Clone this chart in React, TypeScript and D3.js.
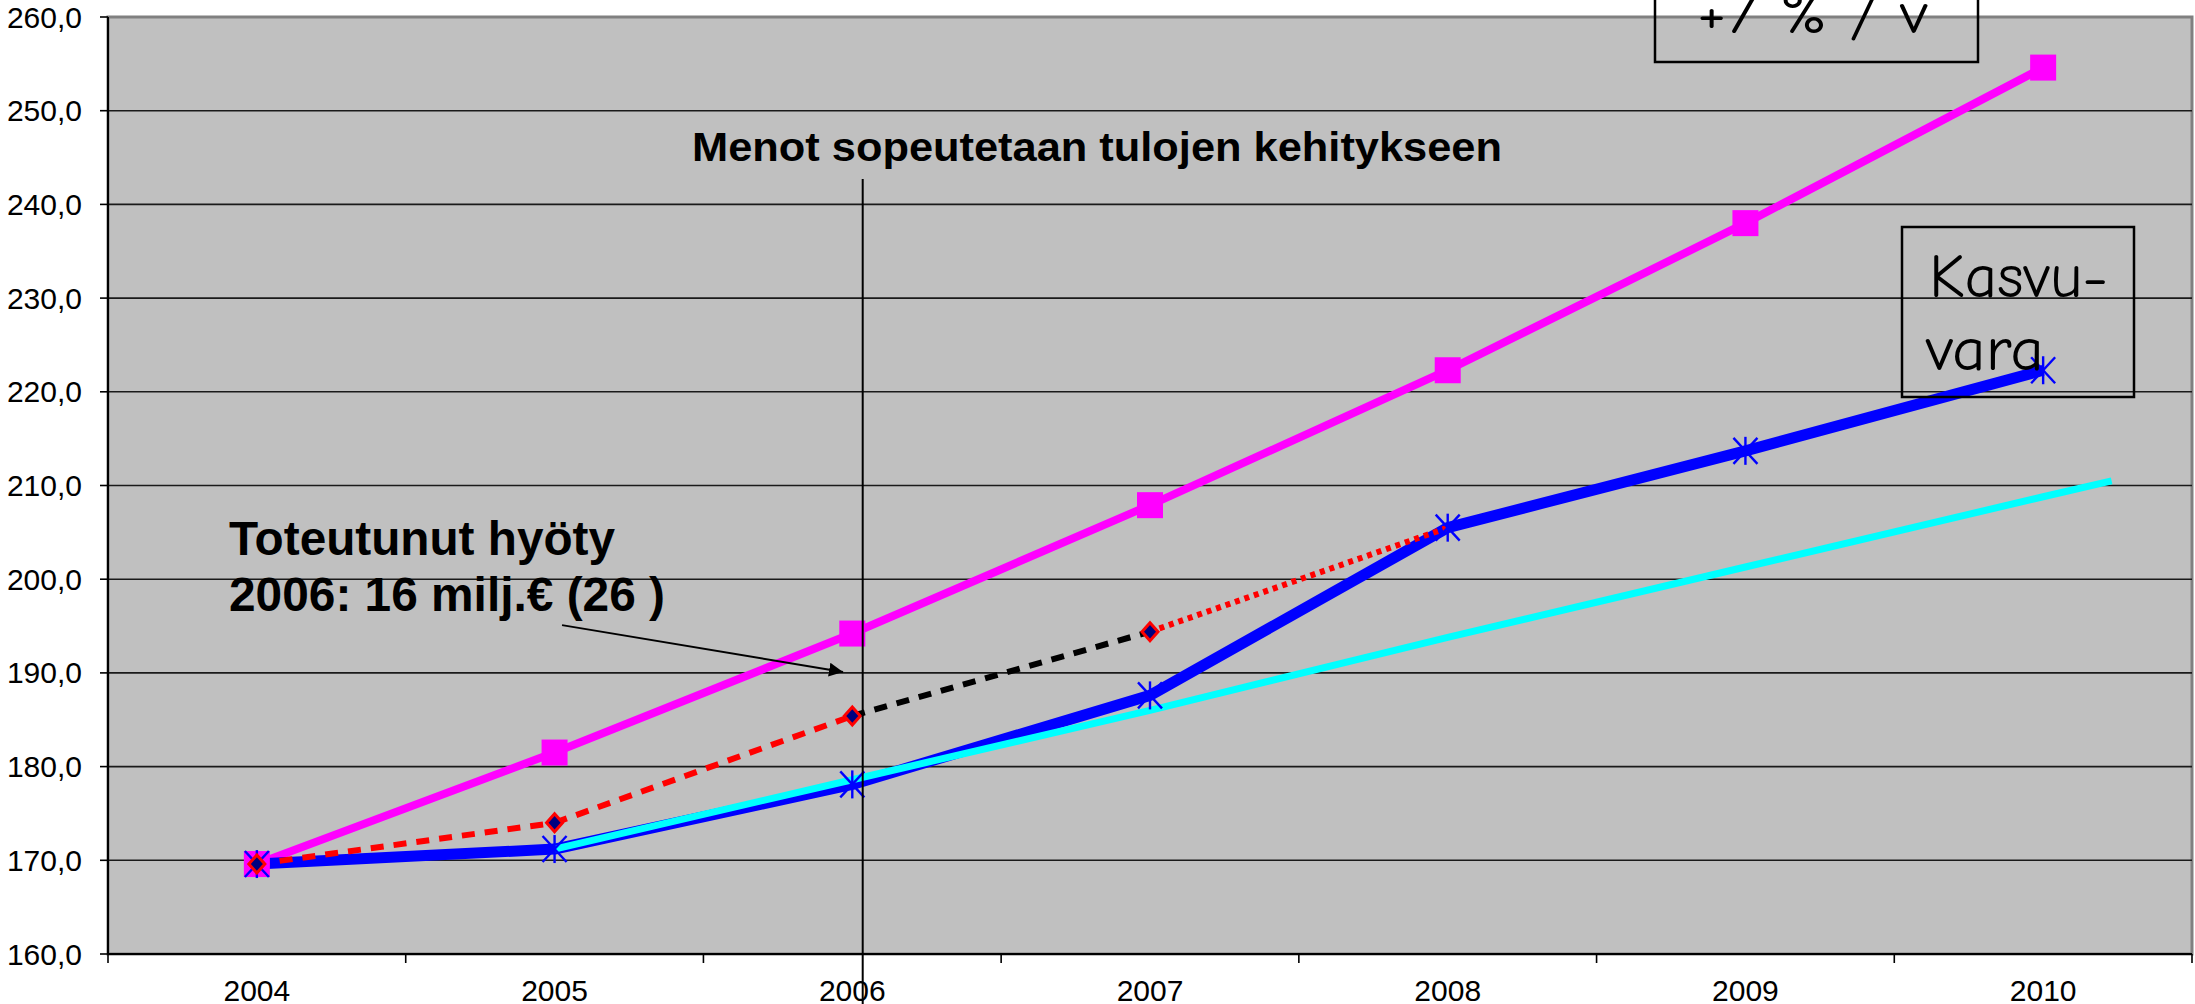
import React from 'react';
import * as d3 from 'd3';

// ---- data ----
const years = [2004, 2005, 2006, 2007, 2008, 2009, 2010];
const yTicks = [160, 170, 180, 190, 200, 210, 220, 230, 240, 250, 260];
const growth7 = [169.6, 181.5, 194.2, 207.9, 222.3, 238.0, 254.6];
const actual = [169.6, 171.2, 178.1, 187.6, 205.5, 213.7, 222.3];
const trendYears = [2005, 2006, 2007, 2008, 2009, 2010, 2010.23];
const trendValues = [171.2, 178.6, 186.0, 193.8, 201.3, 208.8, 210.5];
const forecastYears = [2004, 2005, 2006, 2007, 2008];
const forecastValues = [169.6, 174.0, 185.4, 194.4, 205.5];
const forecastSegStyle = ['redDash', 'redDash', 'blackDash', 'redDot'];
const diamondCount = 4;
const dividerYear = 2006.035;
const dividerTop = 242.7;
const arrowFrom = [2005.025, 195.1];
const arrowTo = [2005.969, 190.1];

const W = 2195;
const H = 1004;
const plot = { left: 108, right: 2192, top: 17, bottom: 954 };

const segStyles: Record<string, { stroke: string; dash: string }> = {
  redDash: { stroke: '#FF0000', dash: '13 10' },
  blackDash: { stroke: '#000000', dash: '13 10' },
  redDot: { stroke: '#FF0000', dash: '5 5' },
};

export default function App() {
  const x = d3.scaleLinear().domain([2003.5, 2010.5]).range([plot.left, plot.right]);
  const y = d3.scaleLinear().domain([160, 260]).range([plot.bottom, plot.top]);
  const line = d3.line<[number, number]>().x((d) => x(d[0])).y((d) => y(d[1]));
  const fmt = (v: number) => d3.format('.1f')(v).replace('.', ',');

  const boundaries = d3.range(0, years.length + 1).map((i) => 2003.5 + i);

  const asterisk = (cx: number, cy: number, key: string) => (
    <g key={key} stroke="#0000FF" strokeWidth={2.4} fill="none">
      <line x1={cx} y1={cy - 14} x2={cx} y2={cy + 14} />
      <line x1={cx - 12} y1={cy - 13} x2={cx + 12} y2={cy + 13} />
      <line x1={cx - 12} y1={cy + 13} x2={cx + 12} y2={cy - 13} />
    </g>
  );

  const arrowX1 = x(arrowFrom[0]);
  const arrowY1 = y(arrowFrom[1]);
  const arrowX2 = x(arrowTo[0]);
  const arrowY2 = y(arrowTo[1]);

  return (
    <svg
      width={W}
      height={H}
      style={{ position: 'absolute', left: 0, top: 0, background: '#FFFFFF' }}
      fontFamily="'Liberation Sans', Arial, sans-serif"
    >
      <defs>
        <marker id="arrowHead" viewBox="0 0 10 10" refX="10" refY="5" markerWidth="7" markerHeight="7" orient="auto" markerUnits="strokeWidth">
          <path d="M0,0 L10,5 L0,10 z" fill="#000" />
        </marker>
      </defs>
      <rect x={plot.left} y={plot.top} width={plot.right - plot.left} height={plot.bottom - plot.top} fill="#C0C0C0" stroke="#808080" strokeWidth={3} />
      {/* gridlines */}
      {yTicks.slice(1, -1).map((t) => (
        <line key={'g' + t} x1={plot.left} x2={plot.right} y1={y(t)} y2={y(t)} stroke="#1a1a1a" strokeWidth={1.6} />
      ))}
      {/* axes */}
      <line x1={plot.left} x2={plot.left} y1={plot.top} y2={plot.bottom} stroke="#000" strokeWidth={2} />
      <line x1={plot.left} x2={plot.right} y1={plot.bottom} y2={plot.bottom} stroke="#000" strokeWidth={2} />
      {yTicks.map((t) => (
        <g key={'yt' + t}>
          <line x1={plot.left - 8} x2={plot.left} y1={y(t)} y2={y(t)} stroke="#000" strokeWidth={1.6} />
          <text x={82} y={y(t)} dy="0.35em" textAnchor="end" fontSize={30} fill="#000">
            {fmt(t)}
          </text>
        </g>
      ))}
      {boundaries.map((b) => (
        <line key={'xt' + b} x1={x(b)} x2={x(b)} y1={plot.bottom} y2={plot.bottom + 9} stroke="#000" strokeWidth={1.6} />
      ))}
      {years.map((yr) => (
        <text key={'xl' + yr} x={x(yr)} y={1001} textAnchor="middle" fontSize={30} fill="#000">
          {yr}
        </text>
      ))}

      {/* lines */}
      <path d={line(years.map((yr, i) => [yr, growth7[i]]) as [number, number][]) || ''} fill="none" stroke="#FF00FF" strokeWidth={8} />
      <path d={line(years.map((yr, i) => [yr, actual[i]]) as [number, number][]) || ''} fill="none" stroke="#0000FF" strokeWidth={11} strokeLinejoin="round" />
      <path d={line(trendYears.map((yr, i) => [yr, trendValues[i]]) as [number, number][]) || ''} fill="none" stroke="#00FFFF" strokeWidth={7} />
      {forecastSegStyle.map((s, i) => (
        <path
          key={'fs' + i}
          d={line([
            [forecastYears[i], forecastValues[i]],
            [forecastYears[i + 1], forecastValues[i + 1]],
          ]) || ''}
          fill="none"
          stroke={segStyles[s].stroke}
          strokeWidth={6}
          strokeDasharray={segStyles[s].dash}
        />
      ))}

      {/* markers */}
      {years.map((yr, i) => (
        <rect key={'sq' + yr} x={x(yr) - 13} y={y(growth7[i]) - 13} width={26} height={26} fill="#FF00FF" />
      ))}
      {years.map((yr, i) => asterisk(x(yr), y(actual[i]), 'as' + yr))}
      {forecastYears.slice(0, diamondCount).map((yr, i) => {
        const cx = x(yr);
        const cy = y(forecastValues[i]);
        return (
          <path key={'dm' + yr} d={`M${cx},${cy - 9} L${cx + 8},${cy} L${cx},${cy + 9} L${cx - 8},${cy} Z`} fill="#000080" stroke="#FF0000" strokeWidth={3} />
        );
      })}

      {/* divider */}
      <line x1={x(dividerYear)} x2={x(dividerYear)} y1={y(dividerTop)} y2={H} stroke="#000" strokeWidth={2} />
      <text x={692} y={161} fontSize={41} fontWeight="bold" fill="#000" textLength={810} lengthAdjust="spacingAndGlyphs">
        Menot sopeutetaan tulojen kehitykseen
      </text>

      {/* annotation */}
      <text x={229} y={555} fontSize={48} fontWeight="bold" fill="#000" textLength={386} lengthAdjust="spacingAndGlyphs">
        Toteutunut hyöty
      </text>
      <text x={229} y={611} fontSize={48} fontWeight="bold" fill="#000" textLength={436} lengthAdjust="spacingAndGlyphs">
        2006: 16 milj.€ (26 )
      </text>
      <line x1={arrowX1} y1={arrowY1} x2={arrowX2} y2={arrowY2} stroke="#000" strokeWidth={2} markerEnd="url(#arrowHead)" />

      {/* boxes */}
      <rect x={1655} y={-10} width={323} height={72} fill="none" stroke="#000" strokeWidth={2.5} />
      <text x={1697} y={33} fontSize={58} fill="#000" fontFamily="'Comic Sans MS', 'Comic Neue', 'DejaVu Sans', sans-serif" textLength={231} lengthAdjust="spacingAndGlyphs">
        +7 % / v
      </text>
      <rect x={1902} y={227} width={232} height={170} fill="none" stroke="#000" strokeWidth={2.5} />
      <text x={1929} y={297} fontSize={62} fill="#000" fontFamily="'Comic Sans MS', 'Comic Neue', 'DejaVu Sans', sans-serif" textLength={179} lengthAdjust="spacingAndGlyphs">
        Kasvu-
      </text>
      <text x={1926} y={370} fontSize={62} fill="#000" fontFamily="'Comic Sans MS', 'Comic Neue', 'DejaVu Sans', sans-serif" textLength={118} lengthAdjust="spacingAndGlyphs">
        vara
      </text>
    </svg>
  );
}
